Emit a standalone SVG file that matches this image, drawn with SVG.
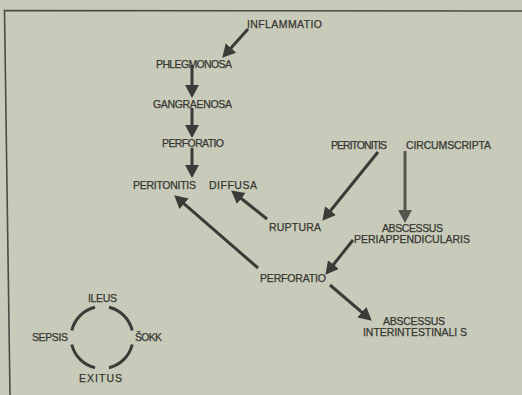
<svg xmlns="http://www.w3.org/2000/svg" width="522" height="395" viewBox="0 0 522 395">
<defs>
<style>
text{font-family:"Liberation Sans","DejaVu Sans",sans-serif;font-size:10.5px;fill:#363632;stroke:#363632;stroke-width:0.25}
.c line{stroke:#3b3b37;stroke-width:3;marker-end:url(#ah)}
.c line.lt{stroke:#55564f;marker-end:url(#ahl)}
.ring path{fill:none;stroke:#3b3b37;stroke-width:3}
</style>
<marker id="ah" markerUnits="userSpaceOnUse" markerWidth="15" markerHeight="15" refX="4" refY="7" orient="auto"><path d="M0,0 L13,7 L0,14 Z" fill="#3b3b37"/></marker>
<marker id="ahl" markerUnits="userSpaceOnUse" markerWidth="15" markerHeight="15" refX="4" refY="7" orient="auto"><path d="M0,0 L13,7 L0,14 Z" fill="#55564f"/></marker>
</defs>
<rect width="522" height="395" fill="#c8cbb9"/>
<path d="M522,11 L4.5,10.5 L10,395" fill="none" stroke="#4a4b45" stroke-width="1.6"/>
<g class="c" id="connectors">
<line x1="248" y1="29" x2="228.3" y2="51"/>
<line x1="192" y1="65" x2="192" y2="89"/>
<line x1="192" y1="108" x2="192" y2="129"/>
<line x1="192" y1="148" x2="192" y2="169"/>
<line x1="378" y1="152" x2="328" y2="213.8"/>
<line class="lt" x1="405" y1="151" x2="405" y2="214"/>
<line x1="267" y1="219" x2="238.2" y2="196"/>
<line x1="258" y1="268" x2="181" y2="201.2"/>
<line x1="353" y1="240" x2="331" y2="267.7"/>
<line x1="330" y1="285" x2="364.9" y2="314.8"/>
</g>
<g id="inflammatio"><text x="247" y="28" textLength="75">INFLAMMATIO</text></g>
<g id="phlegmonosa"><text x="156" y="68" textLength="76">PHLEGMONOSA</text></g>
<g id="gangraenosa"><text x="153" y="108" textLength="79">GANGRAENOSA</text></g>
<g id="perforatio1"><text x="162" y="147" textLength="62">PERFORATIO</text></g>
<g id="peritonitis-diffusa"><text x="133" y="189" textLength="63">PERITONITIS</text><text x="209" y="189" textLength="48">DIFFUSA</text></g>
<g id="peritonitis-circumscripta"><text x="331" y="149" textLength="56">PERITONITIS</text><text x="406" y="149" textLength="85">CIRCUMSCRIPTA</text></g>
<g id="ruptura"><text x="269" y="231" textLength="52">RUPTURA</text></g>
<g id="abscessus-peri"><text x="382" y="232" textLength="61">ABSCESSUS</text><text x="354" y="243" textLength="116">PERIAPPENDICULARIS</text></g>
<g id="perforatio2"><text x="260" y="282" textLength="66">PERFORATIO</text></g>
<g id="abscessus-inter"><text x="383" y="325" textLength="62">ABSCESSUS</text><text x="363" y="336" textLength="104">INTERINTESTINALI S</text></g>
<g id="cycle">
<g class="ring">
<path d="M108.97,307.3 A31,31 0 0 1 132.2,330.5"/>
<path d="M132.2,344.5 A31,31 0 0 1 108.97,367.7"/>
<path d="M95.03,367.7 A31,31 0 0 1 71.8,344.5"/>
<path d="M71.8,330.5 A31,31 0 0 1 95.03,307.3"/>
</g>
<text x="88" y="302" textLength="29">ILEUS</text>
<text x="32" y="341" textLength="36">SEPSIS</text>
<text x="135" y="341" textLength="27">ŠOKK</text>
<text x="79" y="382" textLength="43">EXITUS</text>
</g>
</svg>
